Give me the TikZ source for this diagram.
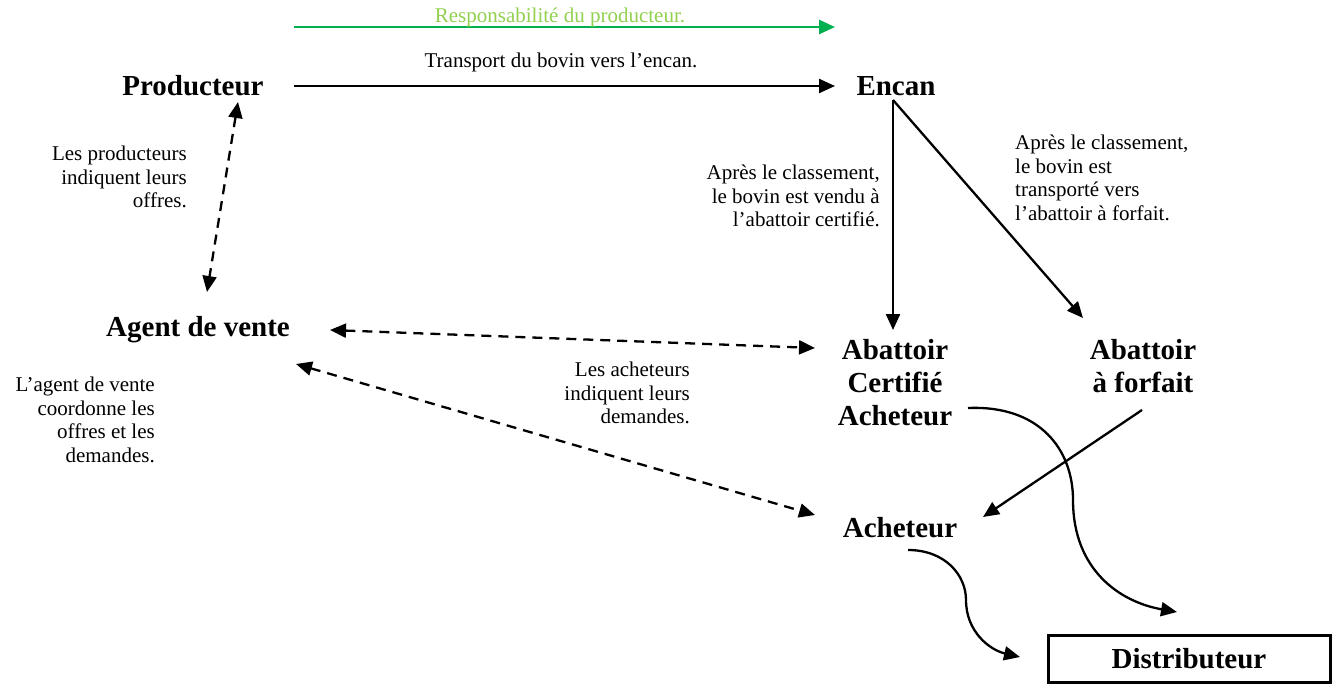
\documentclass[tikz,border=0pt]{standalone}
\usepackage{fontspec}
\setmainfont{Liberation Serif}
\usetikzlibrary{arrows.meta,calc}
\definecolor{gline}{HTML}{00B050}
\definecolor{gtext}{HTML}{92D050}
\begin{document}
\begin{tikzpicture}[x=1pt,y=-1pt,
  big/.style={font=\fontsize{29}{33}\selectfont\bfseries, inner sep=0pt, align=center},
  small/.style={font=\fontsize{21}{23.5}\selectfont, inner sep=0pt},
  arr/.style={line width=2.3pt, -{Triangle[length=16pt,width=14pt]}},
  darr/.style={line width=2.3pt, dash pattern=on 10pt off 7pt, {Triangle[length=16pt,width=14pt]}-{Triangle[length=16pt,width=14pt]}}
]
\useasboundingbox (0,0) rectangle (1336,685);
% nodes
\node[big] (prod) at (193,86) {Producteur};
\node[big] (encan) at (896,86) {Encan};
\node[big] (agent) at (198,330) {Agent de vente};
\node[big] (abc) at (895,383) {Abattoir\\Certifié\\Acheteur};
\node[big] (abf) at (1143,366) {Abattoir\\à forfait};
\node[big] (ach) at (900,528) {Acheteur};
\node[big, draw, line width=3pt, minimum width=282pt, minimum height=47pt] (dist) at (1189,658.5) {Distributeur};
% green responsibility arrow
\coordinate (g1) at (294,27);
\coordinate (g2) at (835,27);
\draw[arr, gline, line width=2.6pt] (g1) -- (g2);
\node[small, text=gtext] (resp) at (560,17) {Responsabilité du producteur.};
% labels
\node[small] (ltrans) at (561,62) {Transport du bovin vers l’encan.};
\node[small, align=right, anchor=east] (lprod) at (187,177) {Les producteurs\\indiquent leurs\\offres.};
\node[small, align=right, anchor=east] (lagent) at (155,420) {L’agent de vente\\coordonne les\\offres et les\\demandes.};
\node[small, align=right, anchor=east] (lach) at (690,393) {Les acheteurs\\indiquent leurs\\demandes.};
\node[small, align=right, anchor=east] (lcert) at (880,196) {Après le classement,\\le bovin est vendu à\\l’abattoir certifié.};
\node[small, align=left, anchor=west] (lforf) at (1015,178) {Après le classement,\\le bovin est\\transporté vers\\l’abattoir à forfait.};
% connectors
\draw[arr] ($(prod.center)+(101,0)$) -- ($(encan.center)+(-61,0)$);
\draw[darr] ($(prod.center)+(45,16)$) -- ($(agent.center)+(9,-38)$);
\draw[darr] ($(agent.center)+(132,0)$) -- ($(abc.center)+(-80,-35)$);
\draw[darr] ($(agent.center)+(98,34)$) -- ($(ach.center)+(-85,-13)$);
\draw[arr] ($(encan.center)+(-3,14)$) -- ($(abc.center)+(-2,-53)$);
\draw[arr] ($(encan.center)+(-3,14)$) -- ($(abf.center)+(-60,-48)$);
\draw[arr] ($(abf.center)+(-1,44)$) -- ($(ach.center)+(83,-11)$);
\draw[arr] ($(abc.center)+(73,25)$) .. controls (1040,405) and (1073,450) .. (1073,500)
   .. controls (1073,570) and (1120,602) .. ($(dist.center)+(-12,-46.5)$);
\draw[arr] ($(ach.center)+(8,22)$) .. controls (945,550) and (966,575) .. (966,600)
   .. controls (966,632) and (990,650) .. ($(dist.center)+(-169,-1.5)$);
\end{tikzpicture}
\end{document}
